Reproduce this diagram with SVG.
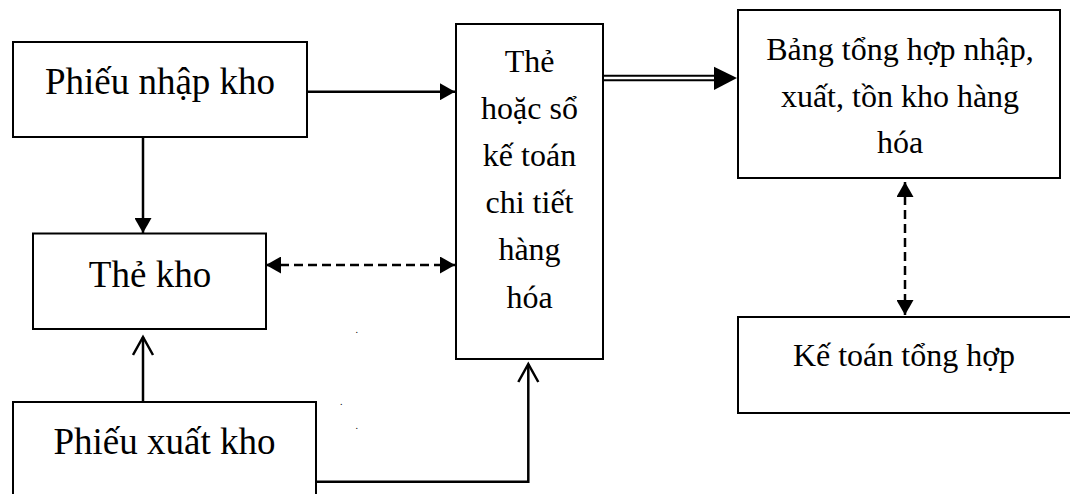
<svg xmlns="http://www.w3.org/2000/svg" width="1070" height="494" viewBox="0 0 1070 494">
<style>
.box{fill:#fff;stroke:#000;stroke-width:2}
.t37{font-family:"Liberation Serif","Times New Roman",serif;font-size:37px;fill:#000;text-anchor:middle}
.t32{font-family:"Liberation Serif","Times New Roman",serif;font-size:32px;fill:#000;text-anchor:middle}
.dot{font-family:"Liberation Serif",serif;font-size:10px;fill:#000}
.ln{fill:none;stroke:#000;stroke-width:2.5}
.dash{fill:none;stroke:#000;stroke-width:2.5;stroke-dasharray:9 5}
</style>
<defs>
<marker id="tri" markerUnits="userSpaceOnUse" markerWidth="16" markerHeight="17" refX="15" refY="8.5" orient="auto-start-reverse" viewBox="0 0 16 17">
<path d="M0,0 L15,8.5 L0,17 z" fill="#000"/>
</marker>
<marker id="open" markerUnits="userSpaceOnUse" markerWidth="22" markerHeight="24" refX="19" refY="11" orient="auto" viewBox="0 0 22 24">
<path d="M1,1 L19,11 L1,21" fill="none" stroke="#000" stroke-width="2.5"/>
</marker>
</defs>
<g id="connectors">
<line class="ln" x1="307" y1="91.7" x2="455" y2="91.7" marker-end="url(#tri)"/>
<line class="ln" x1="143" y1="137" x2="143" y2="233" marker-end="url(#tri)"/>
<line class="dash" x1="266" y1="265" x2="455" y2="265" marker-start="url(#tri)" marker-end="url(#tri)"/>
<line class="ln" x1="143" y1="402" x2="143" y2="337" marker-end="url(#open)"/>
<polyline class="ln" points="316,481.7 528.3,481.7 528.3,364" marker-end="url(#open)"/>
<line x1="603" y1="75.7" x2="716" y2="75.7" stroke="#000" stroke-width="2"/>
<line x1="603" y1="80.3" x2="716" y2="80.3" stroke="#000" stroke-width="2"/>
<polygon points="714,66.7 737,78 714,90" fill="#000"/>
<line class="dash" x1="905" y1="182" x2="905" y2="315" marker-start="url(#tri)" marker-end="url(#tri)"/>
</g>
<g id="phieu-nhap-kho">
<rect class="box" x="13" y="42" width="294" height="95"/>
<text class="t37" x="160" y="94">Phiếu nhập kho</text>
</g>
<g id="the-kho">
<rect class="box" x="33" y="233.5" width="233" height="95.5"/>
<text class="t37" x="150" y="287">Thẻ kho</text>
</g>
<g id="phieu-xuat-kho">
<rect class="box" x="13" y="402" width="303" height="110"/>
<text class="t37" x="164.5" y="453.5">Phiếu xuất kho</text>
</g>
<g id="the-so-ke-toan">
<rect class="box" x="456" y="24" width="147" height="335"/>
<text class="t32" x="529.5" y="72">Thẻ</text>
<text class="t32" x="529.5" y="119">hoặc sổ</text>
<text class="t32" x="529.5" y="166">kế toán</text>
<text class="t32" x="529.5" y="213">chi tiết</text>
<text class="t32" x="529.5" y="260">hàng</text>
<text class="t32" x="529.5" y="308">hóa</text>
</g>
<g id="bang-tong-hop">
<rect class="box" x="738" y="10" width="322" height="168"/>
<text class="t32" x="900" y="60">Bảng tổng hợp nhập,</text>
<text class="t32" x="900" y="106.7">xuất, tồn kho hàng</text>
<text class="t32" x="900" y="153.3">hóa</text>
</g>
<g id="ke-toan-tong-hop">
<rect class="box" x="738" y="317" width="345" height="96"/>
<text class="t32" x="904" y="365.5">Kế toán tổng hợp</text>
</g>
<g id="stray-dots">
<text class="dot" x="355.5" y="333">.</text>
<text class="dot" x="340" y="404.5">.</text>
<text class="dot" x="355.5" y="429">.</text>
</g>
</svg>
